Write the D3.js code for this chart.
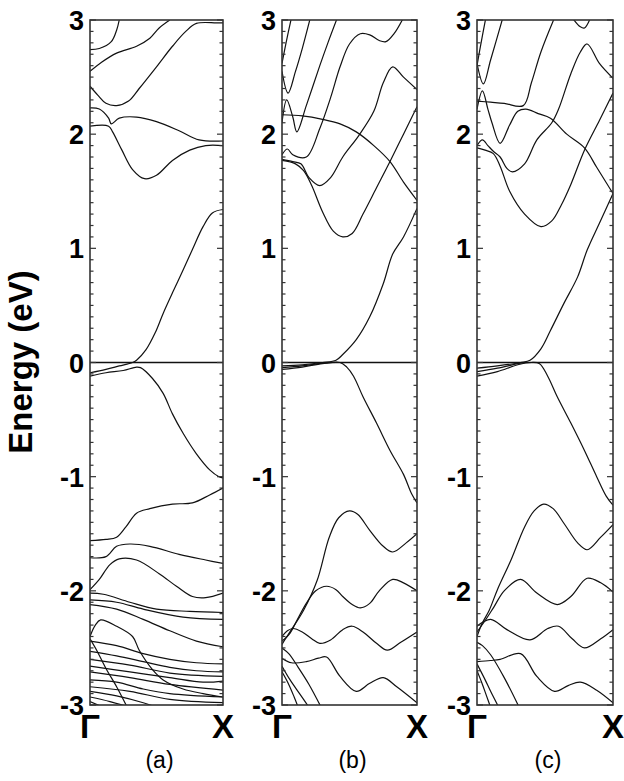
<!DOCTYPE html>
<html><head><meta charset="utf-8">
<script src="https://cdn.jsdelivr.net/npm/d3@7"></script>
<style>body{margin:0;background:#fff}svg{display:block}</style>
</head><body>
<svg id="c" width="624" height="781"></svg>
<script>
// ---- data: energies (eV) along Γ→X (k from 0 to 1) ----
const yTicks = [3, 2, 1, 0, -1, -2, -3];
const kLabels = ["Γ", "X"];
const panelNames = ["(a)", "(b)", "(c)"];

const bandsA_cond = [
  [[0,2.74],[0.07,2.75],[0.16,2.81],[0.2,2.91],[0.22,3.0]],
  [[0,2.55],[0.087,2.63],[0.2,2.71],[0.35,2.77],[0.45,2.84],[0.52,2.93],[0.6,3.0]],
  [[0,2.42],[0.06,2.34],[0.12,2.27],[0.2,2.25],[0.29,2.29],[0.37,2.40],[0.5,2.59],[0.62,2.77],[0.72,2.90],[0.8,2.97],[0.95,2.975],[1,2.975]],
  [[0,2.23],[0.07,2.22],[0.14,2.14],[0.16,2.09],[0.22,2.14],[0.35,2.15],[0.5,2.11],[0.67,2.03],[0.82,1.95],[1,1.94]],
  [[0,2.07],[0.14,2.07],[0.17,2.02],[0.24,1.86],[0.32,1.69],[0.41,1.61],[0.5,1.64],[0.62,1.77],[0.75,1.86],[0.87,1.90],[1,1.90]],
  [[0,-0.09],[0.12,-0.06],[0.22,-0.03],[0.32,0],[0.35,0.02],[0.42,0.11],[0.49,0.26],[0.55,0.43],[0.62,0.61],[0.7,0.81],[0.77,0.99],[0.85,1.19],[0.92,1.31],[1,1.34]]
];
const bandsA_val = [
  [[0,-0.12],[0.12,-0.09],[0.25,-0.07],[0.35,-0.04],[0.38,-0.045],[0.47,-0.14],[0.55,-0.27],[0.62,-0.45],[0.7,-0.62],[0.8,-0.80],[0.9,-0.94],[0.97,-1.0],[1,-1.01]],
  [[0,-1.56],[0.12,-1.55],[0.2,-1.53],[0.27,-1.44],[0.35,-1.32],[0.45,-1.28],[0.62,-1.24],[0.77,-1.23],[0.9,-1.16],[1,-1.10]],
  [[0,-1.71],[0.12,-1.70],[0.2,-1.61],[0.3,-1.59],[0.45,-1.61],[0.67,-1.68],[0.87,-1.73],[1,-1.76]],
  [[0,-1.99],[0.07,-1.90],[0.15,-1.77],[0.22,-1.72],[0.35,-1.73],[0.52,-1.85],[0.65,-1.96],[0.77,-2.05],[0.87,-2.06],[1,-2.02]],
  [[0,-2.02],[0.1,-2.03],[0.3,-2.10],[0.5,-2.16],[0.75,-2.18],[1,-2.19]],
  [[0,-2.08],[0.2,-2.10],[0.4,-2.16],[0.7,-2.23],[1,-2.25]],
  [[0,-2.12],[0.2,-2.16],[0.4,-2.25],[0.6,-2.35],[0.8,-2.44],[1,-2.49]],
  [[0,-2.40],[0.04,-2.30],[0.08,-2.255],[0.2,-2.31],[0.32,-2.40],[0.37,-2.52],[0.47,-2.69],[0.55,-2.78],[0.7,-2.86],[0.85,-2.90],[1,-2.93]],
  [[0,-2.42],[0.05,-2.52],[0.12,-2.68],[0.2,-2.84],[0.28,-3.02]],
  [[0,-2.44],[0.2,-2.48],[0.4,-2.55],[0.6,-2.60],[0.8,-2.63],[1,-2.64]],
  [[0,-2.53],[0.2,-2.57],[0.4,-2.62],[0.6,-2.67],[0.8,-2.70],[1,-2.71]],
  [[0,-2.60],[0.3,-2.65],[0.6,-2.72],[1,-2.75]],
  [[0,-2.66],[0.3,-2.71],[0.6,-2.76],[0.85,-2.80],[1,-2.79]],
  [[0,-2.71],[0.3,-2.76],[0.6,-2.82],[1,-2.87]],
  [[0,-2.78],[0.2,-2.80],[0.4,-2.86],[0.6,-2.90],[1,-2.93]],
  [[0,-2.84],[0.3,-2.88],[0.6,-2.95],[1,-2.98]],
  [[0,-2.88],[0.2,-2.92],[0.4,-2.98],[0.5,-3.02]],
  [[0,-2.93],[0.15,-2.97],[0.3,-3.02]],
  [[0,-2.97],[0.1,-3.02]]
];

const bandsB_cond = [
  [[0,2.62],[0.03,2.8],[0.07,3.02]],
  [[0,2.55],[0.045,2.36],[0.1,2.55],[0.15,2.75],[0.21,3.02]],
  [[0,2.10],[0.035,2.30],[0.08,2.15],[0.11,2.02],[0.18,2.25],[0.28,2.6],[0.34,2.8],[0.41,3.02]],
  [[0,2.17],[0.15,2.16],[0.3,2.13],[0.43,2.09],[0.55,2.02],[0.68,1.90],[0.8,1.76],[0.9,1.58],[1,1.42]],
  [[0,1.82],[0.04,1.87],[0.08,1.82],[0.18,1.80],[0.28,2.05],[0.36,2.32],[0.43,2.59],[0.5,2.79],[0.58,2.88],[0.65,2.87],[0.72,2.82],[0.77,2.81],[0.83,2.88],[0.9,3.02]],
  [[0,1.78],[0.08,1.76],[0.14,1.74],[0.2,1.62],[0.28,1.55],[0.36,1.62],[0.45,1.80],[0.57,1.99],[0.68,2.2],[0.75,2.45],[0.82,2.59],[0.9,2.5],[1,2.39]],
  [[0,1.77],[0.1,1.74],[0.16,1.68],[0.22,1.55],[0.3,1.32],[0.38,1.15],[0.45,1.10],[0.52,1.13],[0.6,1.30],[0.7,1.53],[0.8,1.76],[0.9,2.0],[1,2.24]],
  [[0,-0.03],[0.15,-0.02],[0.3,0.0],[0.4,0.02],[0.45,0.07],[0.55,0.20],[0.65,0.40],[0.75,0.69],[0.82,0.95],[0.9,1.1],[1,1.35]]
];
const bandsB_val = [
  [[0,-0.06],[0.15,-0.04],[0.3,-0.01],[0.43,0],[0.48,-0.04],[0.53,-0.12],[0.6,-0.30],[0.7,-0.53],[0.8,-0.77],[0.9,-0.98],[0.96,-1.15],[1,-1.23]],
  [[0,-0.045],[0.15,-0.03],[0.3,-0.005],[0.4,0.0]],
  [[0,-2.47],[0.02,-2.43],[0.07,-2.34],[0.16,-2.17],[0.26,-1.91],[0.35,-1.53],[0.42,-1.36],[0.5,-1.30],[0.56,-1.33],[0.65,-1.47],[0.75,-1.61],[0.82,-1.66],[0.92,-1.58],[1,-1.50]],
  [[0,-2.44],[0.06,-2.37],[0.11,-2.26],[0.18,-2.11],[0.25,-2.0],[0.33,-1.96],[0.4,-1.99],[0.45,-2.05],[0.52,-2.12],[0.58,-2.15],[0.65,-2.11],[0.72,-2.0],[0.82,-1.90],[0.9,-1.93],[1,-2.0]],
  [[0,-2.40],[0.04,-2.35],[0.08,-2.33],[0.15,-2.36],[0.22,-2.42],[0.28,-2.46],[0.36,-2.43],[0.45,-2.34],[0.52,-2.31],[0.6,-2.36],[0.7,-2.46],[0.78,-2.52],[0.88,-2.45],[1,-2.36]],
  [[0,-2.59],[0.07,-2.63],[0.18,-2.62],[0.27,-2.59],[0.33,-2.58],[0.43,-2.75],[0.55,-2.88],[0.65,-2.81],[0.75,-2.76],[0.85,-2.84],[1,-2.98]],
  [[0,-2.50],[0.05,-2.55],[0.12,-2.67],[0.2,-2.82],[0.29,-3.02]],
  [[0,-2.66],[0.06,-2.78],[0.13,-2.9],[0.2,-3.02]],
  [[0,-2.71],[0.05,-2.82],[0.09,-2.93],[0.12,-3.02]]
];

const bandsC_cond = [
  [[0,2.6],[0.03,2.8],[0.065,3.02]],
  [[0,2.62],[0.047,2.44],[0.1,2.65],[0.19,3.02]],
  [[0,2.29],[0.1,2.28],[0.2,2.27],[0.34,2.25],[0.4,2.45],[0.47,2.72],[0.57,3.02]],
  [[0,2.22],[0.04,2.38],[0.08,2.22],[0.11,2.10],[0.17,1.92],[0.24,2.08],[0.3,2.20],[0.36,2.22],[0.45,2.18],[0.54,2.14],[0.66,2.0],[0.79,1.88],[0.88,1.71],[1,1.48]],
  [[0.7,3.02],[0.76,2.94],[0.79,2.93],[0.835,3.02]],
  [[0,1.90],[0.04,1.95],[0.08,1.90],[0.12,1.85],[0.17,1.80],[0.22,1.70],[0.26,1.67],[0.35,1.74],[0.44,1.95],[0.55,2.10],[0.6,2.22],[0.69,2.53],[0.76,2.72],[0.81,2.79],[0.9,2.62],[1,2.49]],
  [[0,1.88],[0.06,1.86],[0.12,1.83],[0.17,1.72],[0.24,1.50],[0.35,1.30],[0.47,1.19],[0.55,1.24],[0.62,1.38],[0.69,1.56],[0.79,1.86],[0.9,2.12],[1,2.36]],
  [[0,-0.05],[0.15,-0.03],[0.32,0],[0.39,0.02],[0.47,0.12],[0.54,0.28],[0.64,0.52],[0.74,0.75],[0.81,0.985],[0.9,1.22],[1,1.48]]
];
const bandsC_val = [
  [[0,-0.12],[0.15,-0.08],[0.3,-0.02],[0.4,0],[0.46,-0.01],[0.52,-0.12],[0.59,-0.30],[0.69,-0.53],[0.79,-0.77],[0.88,-1.0],[0.95,-1.17],[1,-1.25]],
  [[0,-0.08],[0.15,-0.05],[0.3,-0.01],[0.36,0]],
  [[0,-2.40],[0.04,-2.28],[0.09,-2.17],[0.15,-1.99],[0.25,-1.73],[0.35,-1.44],[0.42,-1.30],[0.49,-1.24],[0.56,-1.28],[0.64,-1.41],[0.74,-1.58],[0.81,-1.64],[0.91,-1.53],[1,-1.42]],
  [[0,-2.36],[0.06,-2.26],[0.125,-2.14],[0.2,-2.0],[0.32,-1.90],[0.44,-2.02],[0.59,-2.12],[0.69,-2.05],[0.81,-1.89],[0.91,-1.93],[1,-2.01]],
  [[0,-2.31],[0.1,-2.25],[0.22,-2.34],[0.39,-2.43],[0.52,-2.33],[0.6,-2.31],[0.7,-2.42],[0.79,-2.50],[0.91,-2.42],[1,-2.34]],
  [[0,-2.62],[0.1,-2.61],[0.17,-2.60],[0.32,-2.55],[0.44,-2.75],[0.57,-2.88],[0.67,-2.83],[0.76,-2.80],[0.88,-2.87],[1,-2.98]],
  [[0,-2.45],[0.04,-2.48],[0.1,-2.56],[0.2,-2.76],[0.31,-3.02]],
  [[0,-2.64],[0.06,-2.78],[0.1,-2.88],[0.16,-3.02]],
  [[0,-2.70],[0.04,-2.82],[0.07,-2.92],[0.1,-3.02]]
];

const panels = [
  {name: panelNames[0], x0: 90,  x1: 223, bands: bandsA_cond.concat(bandsA_val)},
  {name: panelNames[1], x0: 282, x1: 417, bands: bandsB_cond.concat(bandsB_val)},
  {name: panelNames[2], x0: 477, x1: 613, bands: bandsC_cond.concat(bandsC_val)}
];

const svg = d3.select("#c");
const y = d3.scaleLinear().domain([-3, 3]).range([705, 20]);
const FONT = "'Liberation Sans', Arial, sans-serif";

panels.forEach((p, i) => {
  const x = d3.scaleLinear().domain([0, 1]).range([p.x0, p.x1]);
  const g = svg.append("g");
  const clipId = "clip" + i;
  svg.append("clipPath").attr("id", clipId).append("rect")
    .attr("x", p.x0).attr("y", y(3)).attr("width", p.x1 - p.x0).attr("height", y(-3) - y(3));

  const line = d3.line().x(d => x(d[0])).y(d => y(d[1])).curve(d3.curveCatmullRom.alpha(0.5));
  const lg = g.append("g").attr("clip-path", `url(#${clipId})`);
  lg.selectAll("path.band").data(p.bands).join("path")
    .attr("class", "band").attr("d", line)
    .attr("fill", "none").attr("stroke", "#111").attr("stroke-width", 1.2);
  // Fermi level
  lg.append("line").attr("x1", p.x0).attr("x2", p.x1).attr("y1", y(0)).attr("y2", y(0))
    .attr("stroke", "#111").attr("stroke-width", 1.3);

  // minor/major ticks inward on both sides
  const minor = d3.range(-30, 31).map(v => v / 10);
  const tg = g.append("g").attr("stroke", "#333").attr("stroke-width", 1.2);
  minor.forEach(v => {
    const major = Math.abs(v - Math.round(v)) < 1e-6;
    const len = major ? 6 : 3.5;
    tg.append("line").attr("x1", p.x0).attr("x2", p.x0 + len).attr("y1", y(v)).attr("y2", y(v));
    tg.append("line").attr("x1", p.x1).attr("x2", p.x1 - len).attr("y1", y(v)).attr("y2", y(v));
  });
  g.append("rect").attr("x", p.x0).attr("y", y(3)).attr("width", p.x1 - p.x0).attr("height", y(-3) - y(3))
    .attr("fill", "none").attr("stroke", "#333").attr("stroke-width", 1.6);

  // y tick labels
  g.selectAll("text.yt").data(yTicks).join("text").attr("class", "yt")
    .attr("x", p.x0 - 6).attr("y", d => y(d) + 10)
    .attr("text-anchor", "end").attr("font-family", FONT).attr("font-weight", "bold")
    .attr("font-size", 27).attr("fill", "#000").text(d => d);

  // k labels
  g.selectAll("text.kl").data(kLabels).join("text").attr("class", "kl")
    .attr("x", (d, j) => j === 0 ? p.x0 : p.x1).attr("y", 738)
    .attr("text-anchor", "middle").attr("font-family", FONT).attr("font-weight", "bold")
    .attr("font-size", 33).attr("fill", "#000").text(d => d);

  g.append("text").attr("x", (p.x0 + p.x1) / 2 + 3).attr("y", 768)
    .attr("text-anchor", "middle").attr("font-family", FONT)
    .attr("font-size", 23).attr("fill", "#000").text(p.name);
});

svg.append("text").attr("transform", `translate(32,362) rotate(-90)`)
  .attr("text-anchor", "middle").attr("font-family", FONT).attr("font-weight", "bold")
  .attr("font-size", 33).attr("fill", "#000").text("Energy (eV)");
</script>
</body></html>
